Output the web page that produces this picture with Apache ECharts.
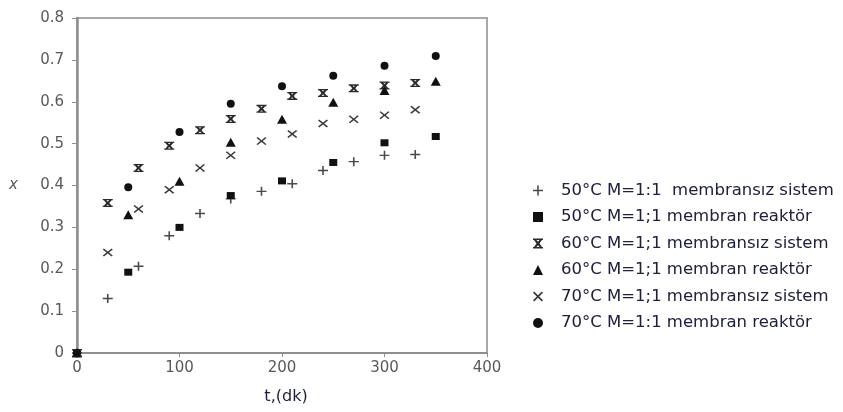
<!DOCTYPE html>
<html>
<head>
<meta charset="utf-8">
<script src="https://cdn.jsdelivr.net/npm/echarts@6/dist/echarts.min.js"></script>
<style>
html,body{margin:0;padding:0;background:#fff;}
#c{width:843px;height:412px;}
</style>
</head>
<body>
<div id="c"></div>
<script>
// ---- data ----
const seriesNames = [
  '50°C M=1:1  membransız sistem',
  '50°C M=1;1 membran reaktör',
  '60°C M=1;1 membransız sistem',
  '60°C M=1;1 membran reaktör',
  '70°C M=1;1 membransız sistem',
  '70°C M=1:1 membran reaktör'
];
const tSistem = [0, 30, 60, 90, 120, 150, 180, 210, 240, 270, 300, 330];
const tReaktor = [0, 50, 100, 150, 200, 250, 300, 350];
const x50Sistem  = [0, 0.130, 0.207, 0.280, 0.333, 0.368, 0.386, 0.404, 0.436, 0.457, 0.472, 0.474];
const x50Reaktor = [0, 0.193, 0.300, 0.376, 0.411, 0.455, 0.502, 0.517];
const x60Sistem  = [0, 0.358, 0.442, 0.495, 0.532, 0.559, 0.583, 0.614, 0.621, 0.632, 0.639, 0.645];
const x60Reaktor = [0, 0.330, 0.410, 0.503, 0.558, 0.599, 0.627, 0.649];
const x70Sistem  = [0, 0.240, 0.344, 0.390, 0.442, 0.472, 0.506, 0.523, 0.548, 0.558, 0.568, 0.581];
const x70Reaktor = [0, 0.396, 0.528, 0.595, 0.637, 0.662, 0.686, 0.709];
const xTicks = [0, 100, 200, 300, 400];
const yTicks = [0, 0.1, 0.2, 0.3, 0.4, 0.5, 0.6, 0.7, 0.8];

// ---- marker shapes ----
const PLUS = 'path://M4.2,0H5.8V4.2H10V5.8H5.8V10H4.2V5.8H0V4.2H4.2Z';
const CROSS = 'path://M0,1.2L1.2,0L5,3.8L8.8,0L10,1.2L6.2,5L10,8.8L8.8,10L5,6.2L1.2,10L0,8.8L3.8,5Z';
const STAR = 'path://M0,0H10V1.6H0ZM0,8.4H10V10H0ZM0,0L2.2,0L5,3.3L7.8,0L10,0L6.5,5L10,10L7.8,10L5,6.7L2.2,10L0,10L3.5,5Z';

const pair = (ts, ys) => ts.map((t, i) => [t, ys[i]]);

const seriesDefs = [
  {data: pair(tSistem, x50Sistem), symbol: PLUS, size: [10, 9], color: '#4a4a4a'},
  {data: pair(tReaktor, x50Reaktor), symbol: 'rect', size: [8, 7], color: '#111'},
  {data: pair(tSistem, x60Sistem), symbol: STAR, size: [10, 8], color: '#2a2a2a'},
  {data: pair(tReaktor, x60Reaktor), symbol: 'triangle', size: [10, 9], color: '#111'},
  {data: pair(tSistem, x70Sistem), symbol: CROSS, size: [10, 8], color: '#3a3a3a'},
  {data: pair(tReaktor, x70Reaktor), symbol: 'circle', size: 8, color: '#111'}
];

const chart = echarts.init(document.getElementById('c'), null, {renderer: 'canvas'});
const FONT = 'DejaVu Sans';

chart.setOption({
  backgroundColor: '#fff',
  animation: false,
  grid: {
    left: 77, right: 356, top: 18, bottom: 59,
    show: true, borderColor: '#a8a8a8', borderWidth: 2
  },
  xAxis: {
    type: 'value', min: xTicks[0], max: xTicks[xTicks.length - 1], interval: 100,
    name: 't,(dk)', nameLocation: 'middle', nameGap: 36,
    nameTextStyle: {fontFamily: FONT, fontSize: 16, color: '#1e1e3a', padding: [0, 0, 0, 8]},
    axisLine: {show: true, lineStyle: {color: '#8f8f8f', width: 2}},
    axisTick: {show: true, length: 4, lineStyle: {color: '#8f8f8f'}},
    axisLabel: {fontFamily: FONT, fontSize: 15, color: '#595959', margin: 8},
    splitLine: {show: false}
  },
  yAxis: {
    type: 'value', min: yTicks[0], max: yTicks[yTicks.length - 1], interval: 0.1,
    name: 'x', nameLocation: 'middle', nameGap: 59, nameRotate: 0,
    nameTextStyle: {fontFamily: FONT, fontSize: 15, fontStyle: 'italic', color: '#595959'},
    axisLine: {show: true, lineStyle: {color: '#8f8f8f', width: 2.5}},
    axisTick: {show: true, length: 5, lineStyle: {color: '#8f8f8f'}},
    axisLabel: {fontFamily: FONT, fontSize: 15, color: '#595959', margin: 13,
      formatter: v => (Math.abs(v) < 1e-9 ? '0' : v.toFixed(1))},
    splitLine: {show: false}
  },
  legend: {
    orient: 'vertical', left: 528, top: 177,
    itemWidth: 10, itemHeight: 10, itemGap: 9.5,
    data: seriesNames,
    formatter: n => '{g|}{t|' + n + '}',
    textStyle: {
      rich: {
        g: {width: 13},
        t: {fontFamily: FONT, fontSize: 16.5, color: '#20203a', lineHeight: 16}
      }
    }
  },
  series: seriesDefs.map((d, i) => ({
    name: seriesNames[i],
    type: 'scatter',
    data: d.data,
    symbol: d.symbol,
    symbolSize: d.size,
    itemStyle: {color: d.color, opacity: 1},
    emphasis: {disabled: true}
  }))
});
</script>
</body>
</html>
